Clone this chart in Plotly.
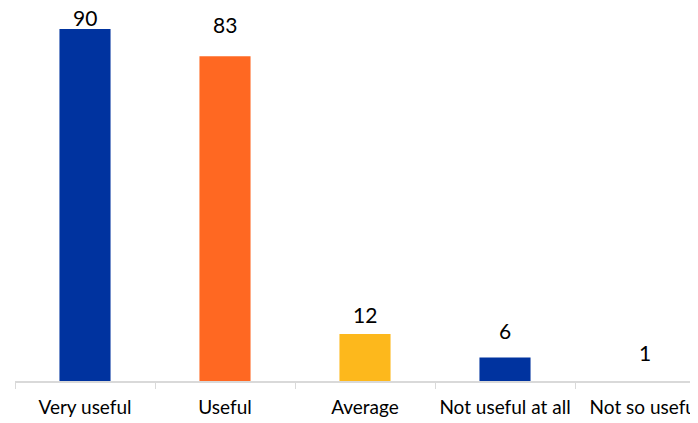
import plotly.graph_objects as go

categories = ["Very useful", "Useful", "Average", "Not useful at all", "Not so useful"]
values = [90, 83, 12, 6, 1]
labels = ["90", "83", "12", "6", "1"]

bar_colors = ["#00339F", "#FF6822", "#FDB81C", "#00339F", "#FFFFFF"]
label_shift = [-3, 17, 5, 13, 10]

fig = go.Figure(go.Bar(
    x=categories,
    y=values,
    marker=dict(color=bar_colors, line=dict(width=0)),
    width=0.365,
    hoverinfo="x+y",
))

for cat, val, txt, dy in zip(categories, values, labels, label_shift):
    fig.add_annotation(
        x=cat, y=val, text=txt, showarrow=False,
        yanchor="bottom", yshift=dy,
        font=dict(family="Lato, sans-serif", size=21, color="#000000"),
    )

# page body has an 8px margin, so the figure is sized to fit the window
fig.update_layout(
    width=690,
    height=415,
    margin=dict(l=7, r=0, t=12, b=42),
    plot_bgcolor="white",
    paper_bgcolor="white",
    showlegend=False,
    xaxis=dict(
        range=[-0.5, 4.5 - 17 / 140],
        showline=True,
        linecolor="#D9D9D9",
        linewidth=2,
        ticks="outside",
        tickson="boundaries",
        ticklen=6,
        tickcolor="#D9D9D9",
        tickangle=0,
        ticklabelstandoff=8,
        tickfont=dict(family="Lato, sans-serif", size=19, color="#000000"),
        showgrid=False,
        zeroline=False,
        automargin=False,
    ),
    yaxis=dict(
        range=[0, 92.3],
        visible=False,
        showgrid=False,
        zeroline=False,
    ),
)

fig.write_html("out.html")
